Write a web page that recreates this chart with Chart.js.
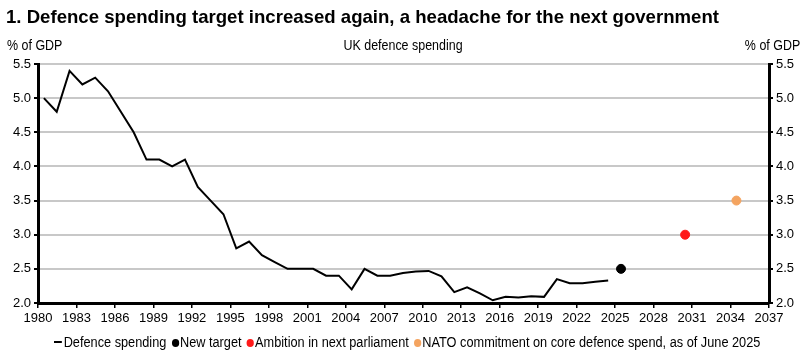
<!DOCTYPE html>
<html>
<head>
<meta charset="utf-8">
<script src="https://cdn.jsdelivr.net/npm/chart.js@4"></script>
<style>
  body { margin: 0; background: #fff; font-family: "Liberation Sans", Arial, sans-serif; }
  #wrap { position: relative; width: 806px; height: 358px; }
  #chart { position: absolute; left: 0; top: 0; }
  .txt { position: absolute; white-space: nowrap; color: #000; font-size: 14px; }
  #title { left: 6px; top: 6px; font-size: 18.6px; font-weight: bold; }
  #legend span.dot { display: inline-block; width: 8px; height: 8px; border-radius: 50%; margin-left: 2px; margin-right: 1px; vertical-align: 0px; }
  #legend span.dash { display: inline-block; width: 9px; height: 2px; background: #000; margin-right: 2px; vertical-align: 4px; }
</style>
</head>
<body>
<div id="wrap">
  <canvas id="chart" width="806" height="358"></canvas>
  <div class="txt" id="title">1. Defence spending target increased again, a headache for the next government</div>
  <div class="txt" style="left:7px; top:37px; transform:scaleX(0.89); transform-origin:left;">% of GDP</div>
  <div class="txt" style="left:403px; top:37px; transform:translateX(-50%) scaleX(0.89);">UK defence spending</div>
  <div class="txt" style="right:6px; top:37px; transform:scaleX(0.89); transform-origin:right;">% of GDP</div>
  <div class="txt" id="legend" style="left:407px; top:334px; transform:translateX(-50%) scaleX(0.91);">
    <span class="dash"></span>Defence spending
    <span class="dot" style="background:#000"></span>New target
    <span class="dot" style="background:#ff1a1a"></span>Ambition in next parliament
    <span class="dot" style="background:#f4a460"></span>NATO commitment on core defence spend, as of June 2025
  </div>
</div>
<script>
// Data
const years = [1980, 1981, 1982, 1983, 1984, 1985, 1986, 1987, 1988, 1989,
  1990, 1991, 1992, 1993, 1994, 1995, 1996, 1997, 1998, 1999,
  2000, 2001, 2002, 2003, 2004, 2005, 2006, 2007, 2008, 2009,
  2010, 2011, 2012, 2013, 2014, 2015, 2016, 2017, 2018, 2019,
  2020, 2021, 2022, 2023, 2024];
const spending = [5.0, 4.8, 5.4, 5.2, 5.3, 5.1, 4.8, 4.5, 4.1, 4.1,
  4.0, 4.1, 3.7, 3.5, 3.3, 2.8, 2.9, 2.7, 2.6, 2.5,
  2.5, 2.5, 2.4, 2.4, 2.2, 2.5, 2.4, 2.4, 2.44, 2.46,
  2.47, 2.39, 2.16, 2.23, 2.14, 2.04, 2.09, 2.08, 2.1, 2.09,
  2.35, 2.29, 2.29, 2.31, 2.33];
const targetLabels = ['New target', 'Ambition in next parliament', 'NATO commitment on core defence spend, as of June 2025'];
const targetYears = [2025, 2030, 2034];
const targetValues = [2.5, 3.0, 3.5];
const targetColors = ['#000000', '#ff1a1a', '#f4a460'];
const yTicks = [2.0, 2.5, 3.0, 3.5, 4.0, 4.5, 5.0, 5.5];

const midYear = 0.46; // points sit mid-year
const tickFont = { family: '"Liberation Sans", Arial', size: 13 };

const datasets = [{
  label: 'Defence spending',
  data: years.map((y, i) => ({ x: y + midYear, y: spending[i] })),
  borderColor: '#000',
  borderWidth: 2,
  pointRadius: 0,
  tension: 0
}];
targetLabels.forEach((lab, i) => {
  datasets.push({
    label: lab,
    data: [{ x: targetYears[i] + midYear, y: targetValues[i] }],
    showLine: false,
    pointRadius: 4.5,
    pointBackgroundColor: targetColors[i],
    pointBorderColor: targetColors[i]
  });
});

function yAxis(position) {
  return {
    type: 'linear',
    position: position,
    min: 2.0,
    max: 5.5,
    afterBuildTicks: s => { s.ticks = yTicks.map(v => ({ value: v })); },
    afterFit: s => { s.width = position === 'left' ? 38 : 37; },
    ticks: { font: tickFont, color: '#000', padding: 3, callback: v => v.toFixed(1) },
    border: { color: '#000', width: 3 },
    grid: {
      display: true,
      drawOnChartArea: position === 'left',
      color: '#c8c8c8',
      lineWidth: 2,
      tickColor: '#000',
      tickLength: 4
    }
  };
}

new Chart(document.getElementById('chart'), {
  type: 'line',
  data: { datasets: datasets },
  options: {
    responsive: false,
    animation: false,
    layout: { padding: { top: 64, bottom: 30, left: 0, right: 0 } },
    plugins: { legend: { display: false }, tooltip: { enabled: false } },
    scales: {
      x: {
        type: 'linear',
        min: 1980,
        max: 2037,
        afterFit: s => { s.height = 25; },
        ticks: { stepSize: 3, font: tickFont, color: '#000', padding: 3, maxRotation: 0, autoSkip: false, callback: v => String(v) },
        border: { color: '#000', width: 3 },
        grid: { drawOnChartArea: false, tickColor: '#000', tickLength: 5, lineWidth: 1.5 }
      },
      y: yAxis('left'),
      y2: yAxis('right')
    }
  }
});
</script>
</body>
</html>
